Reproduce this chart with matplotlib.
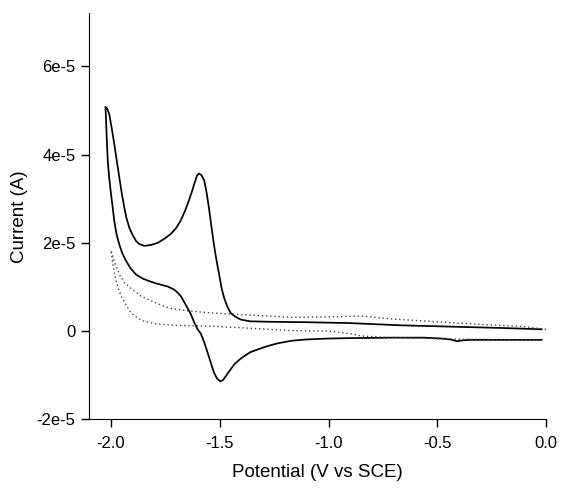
import numpy as np
import matplotlib
matplotlib.use("Agg")
import matplotlib.pyplot as plt

plt.rcParams['font.family'] = ['Liberation Sans', 'DejaVu Sans']

# current values are in units of 1e-5 A
# sample CV: scan 0 -> -2.03 V (upper branch)
fwd_v = [-0.02, -0.21, -0.44, -0.67, -0.90, -1.10, -1.27, -1.36, -1.404, -1.43,
         -1.45, -1.465, -1.48, -1.492, -1.503, -1.515, -1.526, -1.538, -1.549,
         -1.56, -1.572, -1.584, -1.595, -1.605, -1.615, -1.63, -1.645, -1.66,
         -1.68, -1.70, -1.725, -1.755, -1.785, -1.817, -1.847, -1.87, -1.885,
         -1.90, -1.916, -1.93, -1.939, -1.95, -1.962, -1.975, -1.985, -1.997,
         -2.008, -2.018, -2.026]
fwd_i = [0.04, 0.07, 0.10, 0.13, 0.18, 0.20, 0.21, 0.22, 0.26, 0.33,
         0.41, 0.55, 0.75, 0.98, 1.28, 1.60, 1.93, 2.35, 2.76,
         3.12, 3.42, 3.53, 3.57, 3.52, 3.37, 3.13, 2.92, 2.72,
         2.50, 2.34, 2.20, 2.09, 2.00, 1.95, 1.93, 1.97, 2.04,
         2.17, 2.34, 2.58, 2.80, 3.10, 3.48, 3.90, 4.23, 4.60,
         4.91, 5.04, 5.08]
# return scan -2.03 -> 0 V (lower branch)
rev_v = [-2.026, -2.024, -2.02, -2.015, -2.008, -2.0, -1.992, -1.985, -1.975,
         -1.962, -1.948, -1.931, -1.91, -1.885, -1.855, -1.824, -1.793, -1.763,
         -1.74, -1.71, -1.694, -1.679, -1.664, -1.648, -1.633, -1.618, -1.602,
         -1.587, -1.572, -1.556, -1.541, -1.526, -1.512, -1.498, -1.485, -1.472,
         -1.455, -1.434, -1.41, -1.388, -1.36, -1.327, -1.28, -1.235, -1.17,
         -1.10, -1.0, -0.9, -0.7, -0.56, -0.48, -0.44, -0.41, -0.38, -0.35, -0.2, -0.02]
rev_i = [5.08, 4.90, 4.40, 3.85, 3.45, 3.10, 2.78, 2.49, 2.20,
         1.96, 1.76, 1.59, 1.42, 1.28, 1.19, 1.13, 1.08, 1.04,
         1.01, 0.94, 0.87, 0.79, 0.66, 0.52, 0.38, 0.20, 0.04,
         -0.06, -0.25, -0.49, -0.72, -0.95, -1.08, -1.14, -1.11, -1.02,
         -0.90, -0.76, -0.65, -0.57, -0.48, -0.42, -0.34, -0.28, -0.22,
         -0.19, -0.17, -0.16, -0.15, -0.15, -0.17, -0.19, -0.23, -0.21, -0.20, -0.20, -0.20]

# blank (dotted)
blank_fwd_v = [0.0, -0.1, -0.3, -0.5, -0.7, -0.85, -1.0, -1.17, -1.35, -1.54,
               -1.633, -1.725, -1.755, -1.80, -1.862, -1.90, -1.939, -1.96,
               -1.977, -1.99, -2.0]
blank_fwd_i = [0.04, 0.10, 0.15, 0.21, 0.27, 0.34, 0.32, 0.31, 0.36, 0.41,
               0.45, 0.51, 0.56, 0.65, 0.79, 0.93, 1.10, 1.27,
               1.47, 1.65, 1.83]
blank_rev_v = [-2.0, -1.993, -1.985, -1.97, -1.954, -1.93, -1.908, -1.88, -1.847,
               -1.80, -1.71, -1.63, -1.541, -1.35, -1.17, -1.0, -0.9, -0.85,
               -0.75, -0.6, -0.45, -0.3, -0.15, -0.02]
blank_rev_i = [1.83, 1.55, 1.32, 1.02, 0.79, 0.58, 0.41, 0.30, 0.22,
               0.17, 0.13, 0.12, 0.11, 0.06, 0.01, 0.0, -0.06, -0.11,
               -0.14, -0.16, -0.18, -0.19, -0.20, -0.20]

xticks = [-2.0, -1.5, -1.0, -0.5, 0.0]
xticklabels = ['-2.0', '-1.5', '-1.0', '-0.5', '0.0']
yticks = [-2e-5, 0, 2e-5, 4e-5, 6e-5]
yticklabels = ['-2e-5', '0', '2e-5', '4e-5', '6e-5']

fig = plt.figure(figsize=(5.61, 4.91), dpi=100)
ax = fig.add_axes([89.3/561, 71.7/491, (546-89.3)/561, 406/491])

sv = np.array(fwd_v + rev_v)
si = np.array(fwd_i + rev_i) * 1e-5
ax.plot(sv, si, color='black', lw=1.25)

bv = np.array(blank_fwd_v + blank_rev_v)
bi = np.array(blank_fwd_i + blank_rev_i) * 1e-5
ax.plot(bv, bi, color='#444444', lw=1.0, linestyle=(0, (1, 2)))

ax.set_xlim(-2.1, 0.0)
ax.set_ylim(-2e-5, 7.2e-5)
ax.spines['top'].set_visible(False)
ax.spines['right'].set_visible(False)
ax.set_xticks(xticks)
ax.set_xticklabels(xticklabels)
ax.set_yticks(yticks)
ax.set_yticklabels(yticklabels)
ax.tick_params(direction='out', length=6, width=1, labelsize=12)
ax.tick_params(axis='x', pad=6)
ax.tick_params(axis='y', pad=4)

ax.set_xlabel('Potential (V vs SCE)', fontsize=13.5)
ax.set_ylabel('Current (A)', fontsize=13.5)
ax.xaxis.set_label_coords(0.5, -0.11)
ax.yaxis.set_label_coords(-0.135, 0.5)

fig.savefig('out.png', dpi=100)
